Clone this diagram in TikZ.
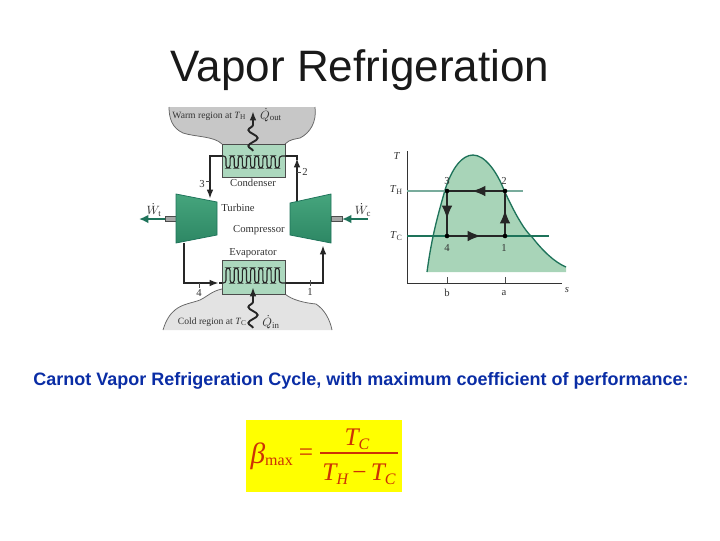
\documentclass[tikz,border=0pt]{standalone}
\usepackage{fontspec}
\setmainfont{Liberation Serif}
\newfontfamily\arialfont{Liberation Sans}
\usepackage{tikz}
\usetikzlibrary{arrows.meta,decorations.pathmorphing}
\definecolor{wallgreen}{RGB}{172,216,190}
\definecolor{domegreen}{RGB}{168,212,184}
\definecolor{darkgreen}{RGB}{30,115,90}
\definecolor{rotortop}{RGB}{70,165,125}
\definecolor{rotormid}{RGB}{175,225,198}
\definecolor{rotorbot}{RGB}{45,135,100}
\definecolor{capblue}{RGB}{10,45,165}
\definecolor{eqred}{RGB}{205,50,5}
\definecolor{eqyellow}{RGB}{255,255,0}
\tikzset{
	pipe/.style={line width=0.5mm, color=black!85},
	pipehead/.style={pipe, -{Latex[length=7pt, width=5pt]}},
	cyclehead/.style={pipe, -{Latex[length=10pt, width=8pt]}},
	squiggle/.style={line width=0.5mm, color=black!85, decorate, decoration={snake, segment length=12, amplitude=3.5}},
	rotor/.style={draw=darkgreen, line width=0.2mm, top color=rotortop, middle color=rotormid, bottom color=rotorbot},
	thrust/.style={darkgreen, line width=0.7mm, -{Latex[length=7pt, width=6.5pt]}},
	lbl/.style={font=\fontsize{8}{9}\selectfont, color=black!80, inner sep=0},
	place/.style={font=\fontsize{7.2}{9}\selectfont, color=black!80, inner sep=0},
	rate/.style={font=\fontsize{9.5}{10}\selectfont, color=black!80, inner sep=0},
	eq/.style={font=\fontsize{19}{20}\selectfont\itshape, color=eqred, inner sep=0}
}
\def\coil#1#2{\draw[pipe, line width=0.3mm, rounded corners=2pt] (222, #1) \foreach \i in {0,...,6} { -- ({226+8.2*\i}, #1) -- ({226+8.2*\i}, #2) -- ({230.1+8.2*\i}, #2) -- ({230.1+8.2*\i}, #1) } -- (285, #1);}

\begin{document}
\begin{tikzpicture}[x=0.75pt, y=-0.75pt]
	%%%%% START %%%%%
	\useasboundingbox (0, 0) rectangle (720, 540);

	\node[font=\arialfont\fontsize{33}{36}\selectfont, color=black!90, inner sep=0] (title) at (360, 70) {Vapor Refrigeration};

	% regions
	\fill[black!22] (169, 107) .. controls (169, 118) and (172, 128) .. (183, 133) .. controls (195, 137) and (214, 136) .. (222, 144) -- (285, 144) .. controls (290, 139) and (296, 139) .. (300, 138) .. controls (310, 133) and (317, 122) .. (315, 107) -- cycle;
	\draw[color=black!60, line width=0.2mm] (169, 107) .. controls (169, 118) and (172, 128) .. (183, 133) .. controls (195, 137) and (214, 136) .. (222, 144);
	\draw[color=black!60, line width=0.2mm] (285, 144) .. controls (290, 139) and (296, 139) .. (300, 138) .. controls (310, 133) and (317, 122) .. (315, 107);
	\fill[black!11] (163, 330) .. controls (166, 320) and (170, 314) .. (175, 310) .. controls (182, 304) and (192, 303) .. (200, 300) .. controls (208, 296) and (212, 291) .. (222, 289) -- (285, 294) .. controls (292, 300) and (305, 303) .. (316, 304) .. controls (325, 310) and (330, 320) .. (332, 330) -- cycle;
	\draw[color=black!60, line width=0.2mm] (163, 330) .. controls (166, 320) and (170, 314) .. (175, 310) .. controls (182, 304) and (192, 303) .. (200, 300) .. controls (208, 296) and (212, 291) .. (222, 289);
	\draw[color=black!60, line width=0.2mm] (285, 294) .. controls (292, 300) and (305, 303) .. (316, 304) .. controls (325, 310) and (330, 320) .. (332, 330);

	% exchangers
	\draw[fill=wallgreen, draw=black!70, line width=0.2mm] (222, 144) rectangle (285, 177);
	\draw[fill=wallgreen, draw=black!70, line width=0.2mm] (222, 260) rectangle (285, 294);
	\coil{156}{168}
	\coil{283}{268}

	% pipes
	\draw[pipehead] (222, 156) -- (210, 156) -- (210, 199);
	\draw[pipehead] (297, 203) -- (297, 158);
	\draw[pipe] (297, 160) -- (297, 156) -- (285, 156);
	\draw[pipehead] (184, 243) -- (184, 283) -- (219, 283);
	\draw[pipe] (219, 283) -- (222, 283);
	\draw[pipehead] (285, 283) -- (323, 283) -- (323, 245);
	\draw[line width=0.2mm, color=black!70] (206, 181) -- (210, 181);
	\draw[line width=0.2mm, color=black!70] (297, 172) -- (301, 172);
	\draw[line width=0.2mm, color=black!70] (199, 283) -- (199, 288);
	\draw[line width=0.2mm, color=black!70] (310, 280) -- (310, 286);

	% heat flows
	\draw[squiggle] (253, 151) -- (253, 120);
	\draw[pipehead] (253, 121) -- (253, 111);
	\draw[squiggle] (253, 328) -- (253, 297);
	\draw[pipehead] (253, 298) -- (253, 287);

	% shafts
	\draw[fill=black!35, draw=black!70, line width=0.2mm] (165, 216.5) rectangle (176, 221);
	\draw[fill=black!35, draw=black!70, line width=0.2mm] (331, 216.5) rectangle (342, 221);
	\draw[thrust] (165, 219) -- (139, 219);
	\draw[thrust] (368, 219) -- (342, 219);

	% machines
	\draw[rotor] (176, 194) -- (217, 202) -- (217, 235) -- (176, 243) -- cycle;
	\draw[rotor] (290, 203) -- (331, 194) -- (331, 243) -- (290, 235) -- cycle;

	% labels of the plant
	\node[place] (warm) at (209, 116) {Warm region at \textit{T}\raisebox{-1pt}{\fontsize{5.5}{6}\selectfont H}};
	\node[rate] (qout) at (271, 115) {$\dot{Q}_{\mathrm{out}}$};
	\node[lbl] (condenser) at (253, 183) {Condenser};
	\node[lbl] (turbine) at (238, 208) {Turbine};
	\node[lbl] (compressor) at (259, 230) {Compressor};
	\node[lbl] (evaporator) at (253, 253) {Evaporator};
	\node[place] (cold) at (212, 322) {Cold region at \textit{T}\raisebox{-1pt}{\fontsize{5.5}{6}\selectfont C}};
	\node[rate] (qin) at (271, 322) {$\dot{Q}_{\mathrm{in}}$};
	\node[rate] (wt) at (154, 210) {$\dot{W}_{\mathrm{t}}$};
	\node[rate] (wc) at (363, 210) {$\dot{W}_{\mathrm{c}}$};
	\node[lbl] (n3) at (202, 184) {3};
	\node[lbl] (n2) at (305, 172) {2};
	\node[lbl] (n4) at (199, 293) {4};
	\node[lbl] (n1) at (310, 292) {1};

	% T-s diagram
	\fill[domegreen] (427, 272) .. controls (432, 235) and (438, 215) .. (445, 190) .. controls (452, 168) and (462, 155) .. (473, 155) .. controls (485, 155) and (497, 172) .. (504, 190) .. controls (514, 212) and (524, 230) .. (532, 237) .. controls (542, 250) and (554, 262) .. (566, 267) -- (566, 272) -- cycle;
	\draw[darkgreen, line width=0.35mm] (427, 272) .. controls (432, 235) and (438, 215) .. (445, 190) .. controls (452, 168) and (462, 155) .. (473, 155) .. controls (485, 155) and (497, 172) .. (504, 190) .. controls (514, 212) and (524, 230) .. (532, 237) .. controls (542, 250) and (554, 262) .. (566, 267);
	\draw[color=black!80, line width=0.25mm] (407, 151) -- (407, 283) -- (562, 283);
	\draw[color=black!70, line width=0.2mm] (447, 277) -- (447, 283);
	\draw[color=black!70, line width=0.2mm] (505, 277) -- (505, 283);
	\draw[color=darkgreen!60, line width=0.3mm] (407, 191) -- (523, 191);
	\draw[color=darkgreen, line width=0.3mm] (407, 236) -- (549, 236);
	\draw[pipe, line width=0.35mm] (447, 191) rectangle (505, 236);
	\draw[cyclehead] (505, 191) -- (472, 191);
	\draw[cyclehead] (447, 191) -- (447, 219);
	\draw[cyclehead] (447, 236) -- (481, 236);
	\draw[cyclehead] (505, 236) -- (505, 210);
	\fill (447, 191) circle[radius=2.3];
	\fill (505, 191) circle[radius=2.3];
	\fill (447, 236) circle[radius=2.3];
	\fill (505, 236) circle[radius=2.3];
	\node[lbl] (t3) at (447, 181) {3};
	\node[lbl] (t2) at (504, 181) {2};
	\node[lbl] (t4) at (447, 248) {4};
	\node[lbl] (t1) at (504, 248) {1};
	\node[lbl] (taxis) at (397, 156) {\textit{T}};
	\node[lbl] (th) at (396, 190) {\textit{T}\raisebox{-1pt}{\fontsize{6}{6}\selectfont H}};
	\node[lbl] (tc) at (396, 236) {\textit{T}\raisebox{-1pt}{\fontsize{6}{6}\selectfont C}};
	\node[lbl] (b) at (447, 293) {b};
	\node[lbl] (a) at (504, 293) {a};
	\node[lbl] (saxis) at (567, 290) {\textit{s}};

	% caption and formula
	\node[font=\arialfont\bfseries\fontsize{13.5}{15}\selectfont, color=capblue, inner sep=0] (caption) at (361, 381) {Carnot Vapor Refrigeration Cycle, with maximum coefficient of performance:};
	\fill[eqyellow] (246, 420) rectangle (402, 492);
	\node[eq, font=\fontsize{22}{22}\selectfont\itshape] (beta) at (258, 456) {β};
	\node[eq, font=\fontsize{12}{12}\selectfont] (max) at (279, 462) {max};
	\node[eq, font=\fontsize{19}{20}\selectfont] (equals) at (306, 455) {=};
	\draw[color=eqred, line width=0.3mm] (320, 453) -- (398, 453);
	\node[eq] (num) at (357, 439) {\textit{T}\raisebox{-3pt}{\fontsize{12}{12}\selectfont C}};
	\node[eq] (den) at (359, 474) {\textit{T}\raisebox{-3pt}{\fontsize{12}{12}\selectfont H}\,{\upshape −}\,\textit{T}\raisebox{-3pt}{\fontsize{12}{12}\selectfont C}};
	%%%%% END %%%%%
\end{tikzpicture}
\end{document}
